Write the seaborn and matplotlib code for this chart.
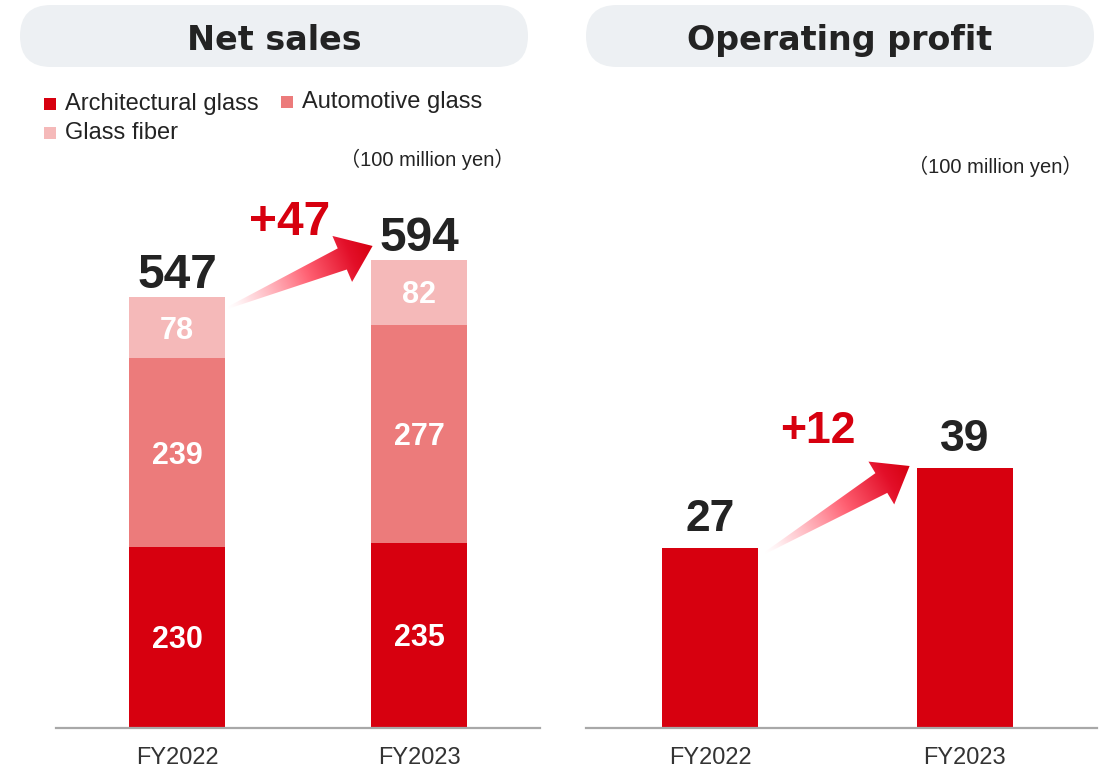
import numpy as np
import pandas as pd
import matplotlib
matplotlib.use("Agg")
import matplotlib.pyplot as plt
import seaborn as sns
from matplotlib.patches import FancyBboxPatch, Polygon, Rectangle
from matplotlib.colors import LinearSegmentedColormap

# ---------------- data ----------------
years = ["FY2022", "FY2023"]
segments = ["Architectural glass", "Automotive glass", "Glass fiber"]
architectural = [230, 235]
automotive = [239, 277]
glass_fiber = [78, 82]
net_sales_total = [547, 594]
operating_profit = [27, 39]
titles = ["Net sales", "Operating profit"]
unit_label = "（100 million yen）"

# ---------------- style ----------------
seg_colors = ["#D7000F", "#EC7B7B", "#F5B9B9"]
OP_COLOR = "#D7000F"
DARK = "#232323"
PILL = "#EDF0F3"

sns.set_theme(style="white")
plt.rcParams["font.family"] = ["Liberation Sans", "Noto Sans CJK JP", "DejaVu Sans"]

W, H = 1101, 769
fig = plt.figure(figsize=(W / 100, H / 100), dpi=100)
fig.patch.set_facecolor("white")

def px_axes(x0, y_top, x1, y_base):
    return fig.add_axes([x0 / W, (H - y_base) / H, (x1 - x0) / W, (y_base - y_top) / H])

ax1 = px_axes(56, 180, 540, 728)
ax2 = px_axes(586, 180, 1097, 728)

# ---- Net sales: stacked bars (cumulative layering) ----
df = pd.DataFrame({"year": years, segments[0]: architectural,
                   segments[1]: automotive, segments[2]: glass_fiber})
cum = df[segments].cumsum(axis=1)
cum["year"] = years
for seg, col in reversed(list(zip(segments, seg_colors))):
    sns.barplot(data=cum, x="year", y=seg, color=col, width=0.4,
                saturation=1, linewidth=0, ax=ax1)

# ---- Operating profit ----
dfo = pd.DataFrame({"year": years, "Operating profit": operating_profit})
sns.barplot(data=dfo, x="year", y="Operating profit", color=OP_COLOR,
            width=0.377, saturation=1, linewidth=0, ax=ax2)

ax1.set_xlim(-0.5, 1.5)
ax1.set_ylim(0, 695.5)
ax2.set_xlim(-0.487, 1.52)
ax2.set_ylim(0, 82.2)

for ax in (ax1, ax2):
    ax.set_xlabel("")
    ax.set_ylabel("")
    ax.set_yticks([])
    for s in ("top", "left", "right"):
        ax.spines[s].set_visible(False)
    ax.spines["bottom"].set_color("#A8A8A8")
    ax.spines["bottom"].set_linewidth(1.6)
    ax.tick_params(axis="x", length=0, pad=14, labelsize=17, labelcolor="#333333")
    ax.patch.set_alpha(0)

# segment labels and totals
for i in range(len(years)):
    vals = [architectural[i], automotive[i], glass_fiber[i]]
    bottom = 0
    for v in vals:
        ax1.annotate(str(v), xy=(i, bottom + v / 2), xytext=(0, -7.9),
                     textcoords="offset points", ha="center", va="baseline",
                     fontsize=22, fontweight="bold", color="white")
        bottom += v
    ax1.annotate(str(net_sales_total[i]), xy=(i, net_sales_total[i]),
                 xytext=(0, 6.5), textcoords="offset points", ha="center",
                 va="baseline", fontsize=34.5, fontweight="bold", color=DARK)
    ax2.annotate(str(operating_profit[i]), xy=(i, operating_profit[i]),
                 xytext=(0, 12), textcoords="offset points", ha="center",
                 va="baseline", fontsize=32, fontweight="bold", color=DARK)

# deltas
d_sales = net_sales_total[1] - net_sales_total[0]
d_op = operating_profit[1] - operating_profit[0]
ax1.annotate(f"+{d_sales}", xy=(0.5, net_sales_total[1]), xytext=(-6, 18),
             textcoords="offset points", ha="center", va="baseline",
             fontsize=34.5, fontweight="bold", color=OP_COLOR)
ax2.annotate(f"+{d_op}", xy=(0.5, operating_profit[1]), xytext=(-14, 18),
             textcoords="offset points", ha="center", va="baseline",
             fontsize=32, fontweight="bold", color=OP_COLOR)

# ---------------- overlay in pixel coordinates ----------------
ov = fig.add_axes([0, 0, 1, 1], zorder=5)
ov.set_axis_off()
ov.patch.set_alpha(0)

def to_px(ax, x, y):
    dx, dy = ax.transData.transform((x, y))
    return np.array([dx, H - dy])

# header pills + titles
for (x0, x1), title in zip([(20, 528), (586, 1094)], titles):
    ov.add_patch(FancyBboxPatch((x0, 5), x1 - x0, 62,
                                boxstyle="round,pad=0,rounding_size=31",
                                facecolor=PILL, edgecolor="none", zorder=1))
    ov.text((x0 + x1) / 2, 50, title, ha="center", va="baseline",
            fontsize=24, fontweight="bold", color=DARK,
            family=["DejaVu Sans"], zorder=2)

# legend
leg_pos = [(44, 104), (281, 102), (44, 133)]
for (lx, ly), lab, col in zip(leg_pos, segments, seg_colors):
    ov.add_patch(Rectangle((lx, ly - 6), 12, 12, facecolor=col,
                           edgecolor="none", zorder=2))
    ov.text(lx + 21, ly, lab, ha="left", va="center", fontsize=17,
            color=DARK, zorder=2)

# unit labels
ov.text(514, 166, unit_label, ha="right", va="baseline", fontsize=14.5, color=DARK)
ov.text(1082, 173, unit_label, ha="right", va="baseline", fontsize=14.5, color=DARK)

# gradient arrows
cmap = LinearSegmentedColormap.from_list("grad", [
    (0.0, (1.0, 0.92, 0.93, 0.0)),
    (0.15, (1.0, 0.84, 0.86, 0.8)),
    (0.55, (1.0, 0.38, 0.45, 1.0)),
    (0.85, (0.89, 0.06, 0.16, 1.0)),
    (1.0, (0.84, 0.0, 0.06, 1.0)),
])

def gradient_arrow(p0, p1, tail_w=2, shaft_w=23, head_w=50, head_len=33):
    p0 = np.asarray(p0, float)
    p1 = np.asarray(p1, float)
    d = p1 - p0
    L = np.hypot(*d)
    u = d / L
    n = np.array([-u[1], u[0]])
    base = p1 - u * head_len
    pts = np.array([p0 + n * tail_w / 2, base + n * shaft_w / 2,
                    base + n * head_w / 2, p1, base - n * head_w / 2,
                    base - n * shaft_w / 2, p0 - n * tail_w / 2])
    poly = Polygon(pts, closed=True, facecolor="none", edgecolor="none",
                   transform=ov.transData)
    ov.add_patch(poly)
    xmin, ymin = pts.min(axis=0) - 2
    xmax, ymax = pts.max(axis=0) + 2
    xs = np.linspace(xmin, xmax, 300)
    ys = np.linspace(ymin, ymax, 300)
    X, Y = np.meshgrid(xs, ys)
    t = np.clip(((X - p0[0]) * u[0] + (Y - p0[1]) * u[1]) / L, 0, 1)
    img = cmap(t)
    im = ov.imshow(img, extent=(xmin, xmax, ymax, ymin), origin="upper",
                   aspect="auto", interpolation="bilinear", zorder=3)
    im.set_clip_path(poly)

bw1 = 0.2
a0 = to_px(ax1, 0 + bw1, net_sales_total[0]) + np.array([2, 11])
a1 = to_px(ax1, 1 - bw1, net_sales_total[1]) + np.array([2, -14])
gradient_arrow(a0, a1)

bw2 = 0.377 / 2
b0 = to_px(ax2, 0 + bw2, operating_profit[0]) + np.array([7, 5])
b1 = to_px(ax2, 1 - bw2, operating_profit[1]) + np.array([-7, -2])
gradient_arrow(b0, b1)

ov.set_xlim(0, W)
ov.set_ylim(H, 0)

fig.savefig("out.png", dpi=100, facecolor="white")
